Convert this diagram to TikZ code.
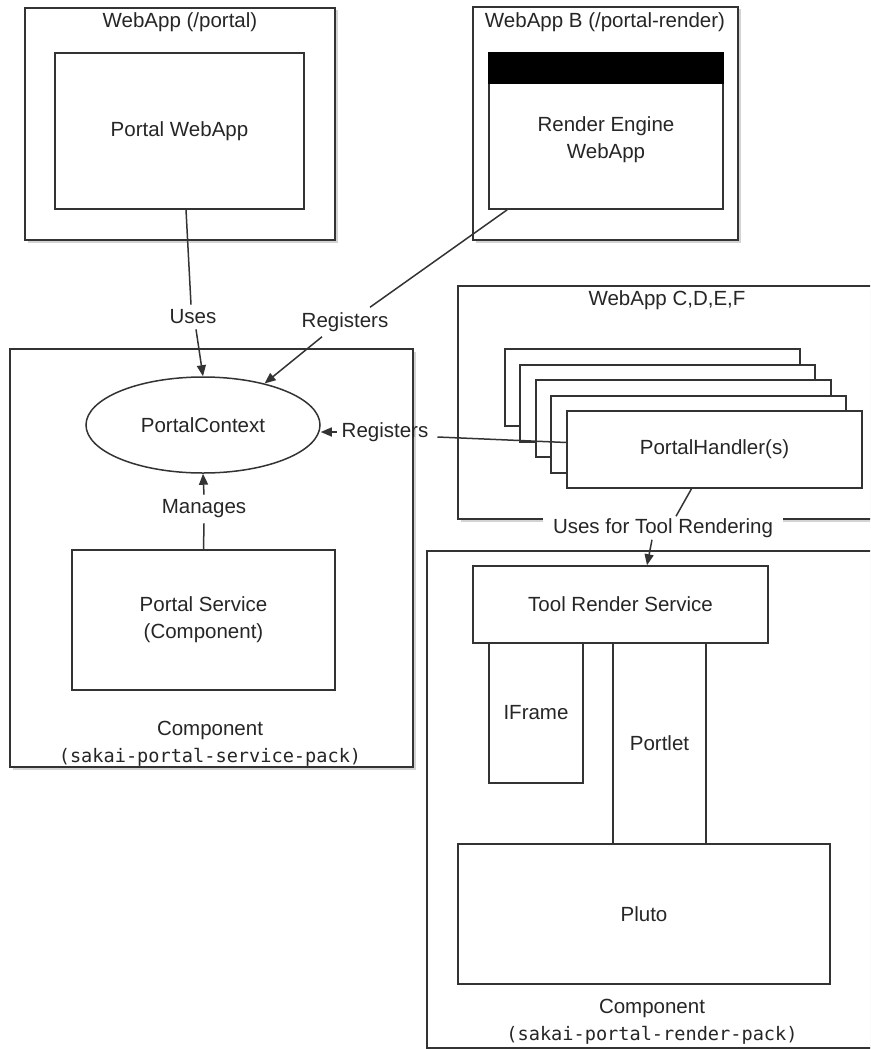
\documentclass[tikz,border=0pt]{standalone}
\usepackage{fontspec}
\setmainfont{Liberation Sans}
\setmonofont{DejaVu Sans Mono}
\usetikzlibrary{calc,shadows,arrows.meta,shapes.geometric}
\begin{document}
\begin{tikzpicture}[x=1pt,y=-1pt,
  every node/.style={text=black!85, font=\fontsize{20.5}{27}\selectfont},
  box/.style={draw=black!80, line width=1.5pt, fill=white, inner sep=0pt},
  outer/.style={box, drop shadow={shadow xshift=2.5pt, shadow yshift=-2.5pt, opacity=0.35}},
  lbl/.style={inner sep=5pt},
  conn/.style={draw=black!80, line width=1.5pt},
  arr/.style={conn, -{Triangle[length=11pt,width=9pt]}},
  mono/.style={font=\fontsize{18.6}{22}\selectfont\ttfamily},
  handler/.style={box, minimum width=295pt, minimum height=77pt},
]
\useasboundingbox (0,0) rectangle (870,1049);
\clip (0,0) rectangle (870,1049);

% WebApp (/portal)
\node[outer, minimum width=310pt, minimum height=232pt] (wa) at (180,124) {};
\node (watitle) at (180,22) {WebApp (/portal)};
\node[box, minimum width=249pt, minimum height=156pt] (pw) at (179.5,131) {Portal WebApp};

% WebApp B
\node[outer, minimum width=265pt, minimum height=233pt] (wb) at (605.5,123.5) {};
\node (wbtitle) at (605,22) {WebApp B (/portal-render)};
\node[box, minimum width=234pt, minimum height=156pt] (re) at (606,131) {};
\fill[black] (re.north west) rectangle ($(re.north east)+(0,32)$);
\node[align=center] (retext) at (606,140) {Render Engine\\WebApp};

% Component 1
\node[outer, minimum width=403pt, minimum height=418pt] (comp1) at (211.5,558) {};
\node[box, ellipse, minimum width=234pt, minimum height=96pt] (ell) at (203,425) {PortalContext};
\node[box, align=center, minimum width=263pt, minimum height=140pt] (ps) at (203.5,620) {Portal Service\\(Component)};
\node (c1a) at (210,730) {Component};
\node[mono] (c1b) at (210,757) {(sakai-portal-service-pack)};

% WebApp C,D,E,F
\node[outer, minimum width=442pt, minimum height=233pt] (cdef) at (679,402.5) {};
\node (cdeft) at (667,300) {WebApp C,D,E,F};
\node[handler] (h0) at (652.5,387.5) {};
\node[handler] (h1) at (667.5,403.5) {};
\node[handler] (h2) at (683.5,418.5) {};
\node[handler] (h3) at (698.5,434.5) {};
\node[handler] (h4) at (714.5,449.5) {PortalHandler(s)};

% Component 2
\node[outer, minimum width=473pt, minimum height=497pt] (comp2) at (663.5,799.5) {};
\node[box, minimum width=295pt, minimum height=77pt] (trs) at (620.5,604.5) {Tool Render Service};
\node[box, minimum width=94pt, minimum height=140pt] (ifr) at (536,713) {IFrame};
\node[inner sep=0pt, minimum width=93pt, minimum height=201pt] (portlet) at (659.5,743.5) {Portlet};
\draw[conn] (portlet.north west) -- (portlet.south west) (portlet.north east) -- (portlet.south east);
\node[box, minimum width=372pt, minimum height=140pt] (pluto) at (644,914) {Pluto};
\node (c2a) at (652,1008) {Component};
\node[mono] (c2b) at (652,1035) {(sakai-portal-render-pack)};

% labels
\node[lbl] (uses) at (193,317) {Uses};
\node[lbl] (reg1) at (345,322) {Registers};
\node[lbl] (reg2) at (385,432) {Registers};
\node[lbl] (mng) at (204,509) {Manages};
\node[fill=white, inner xsep=10pt, inner ysep=2pt] (utr) at (663,528) {Uses for Tool Rendering};

% connectors
\draw[conn] ($(pw.south)+(6.5,0)$) -- ($(uses.north)+(-2,0)$);
\draw[arr] ($(uses.south)+(3,0)$) -- (ell.north);
\draw[conn] ($(re.south west)+(19,0)$) -- ($(reg1.north)+(25,0)$);
\draw[arr] ($(reg1.south)+(-23,0)$) -- (ell.34);
\draw[arr] (reg2.west) -- (reg2.west -| ell.east);
\draw[conn] ($(reg2.east)+(4,5)$) -- ($(h4.west)+(0,-7)$);
\draw[conn] (ps.north) -- (mng.south);
\draw[arr] (mng.north) -- (ell.south);
\draw[conn] ($(h4.south)+(-23,0)$) -- ($(utr.north)+(13,0)$);
\draw[arr] ($(utr.south)+(-11,0)$) -- ($(trs.north)+(26.5,0)$);
\end{tikzpicture}
\end{document}
